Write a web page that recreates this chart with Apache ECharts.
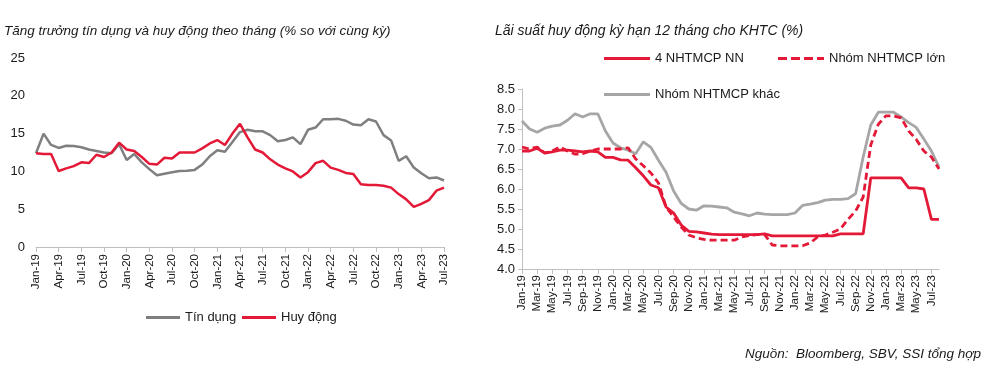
<!DOCTYPE html>
<html>
<head>
<meta charset="utf-8">
<script src="https://cdn.jsdelivr.net/npm/echarts@6/dist/echarts.min.js"></script>
<style>
html,body{margin:0;padding:0;background:#fff;}
#main{width:1000px;height:376px;}
</style>
</head>
<body>
<div id="main"></div>
<script>
// nhan thang: Jan-19 ...
var monthNames = ['Jan','Feb','Mar','Apr','May','Jun','Jul','Aug','Sep','Oct','Nov','Dec'];
function makeMonths(count) {
    var out = [];
    for (var i = 0; i < count; i++) {
        out.push(monthNames[i % 12] + '-' + (19 + Math.floor(i / 12)));
    }
    return out;
}
var leftMonths = makeMonths(55);   // Jan-19 .. Jul-23
var rightMonths = makeMonths(56);  // Jan-19 .. Aug-23

// bieu do trai: % so voi cung ky
var tinDung = [12.4,15.0,13.5,13.1,13.4,13.35,13.2,12.9,12.7,12.5,12.4,13.6,11.5,12.3,11.2,10.3,9.5,9.7,9.9,10.05,
    10.1,10.2,10.9,12.0,12.8,12.6,13.9,15.2,15.5,15.3,15.3,14.8,14.0,14.15,14.5,13.6,15.5,15.8,16.9,16.9,
    16.95,16.7,16.2,16.1,16.9,16.6,14.8,14.1,11.4,12.0,10.5,9.75,9.1,9.2,8.8];
var huyDong = [12.4,12.3,12.3,10.05,10.4,10.7,11.2,11.1,12.2,11.9,12.5,13.8,12.9,12.7,11.9,11.0,10.9,11.8,11.7,12.5,
    12.5,12.5,13.05,13.7,14.15,13.5,15.0,16.3,14.5,12.9,12.5,11.6,10.9,10.4,10.0,9.2,9.9,11.1,11.4,10.5,
    10.2,9.8,9.65,8.3,8.2,8.2,8.1,7.85,7.0,6.3,5.3,5.7,6.2,7.45,7.85];

// bieu do phai: lai suat ky han 12 thang
var nhNN = [6.95,6.95,7.02,6.9,6.93,6.97,6.97,6.95,6.93,6.95,6.93,6.79,6.79,6.73,6.72,6.53,6.33,6.1,6.03,5.55,
    5.4,5.1,4.94,4.93,4.9,4.87,4.86,4.86,4.86,4.86,4.86,4.86,4.88,4.83,4.83,4.83,4.83,4.83,4.83,4.83,
    4.83,4.83,4.88,4.88,4.88,4.88,6.28,6.28,6.28,6.28,6.28,6.03,6.03,6.0,5.24,5.24];
var nhLon = [7.05,7.0,7.05,6.9,6.95,7.05,6.95,6.87,6.88,6.95,7.0,7.0,7.0,7.0,7.03,6.75,6.58,6.4,6.15,5.55,
    5.3,5.05,4.85,4.78,4.74,4.72,4.72,4.72,4.72,4.8,4.84,4.86,4.86,4.6,4.58,4.58,4.58,4.58,4.65,4.8,
    4.85,4.92,5.0,5.24,5.45,5.8,7.1,7.62,7.83,7.83,7.78,7.45,7.24,6.95,6.8,6.5];
var nhKhac = [7.7,7.5,7.42,7.52,7.57,7.6,7.72,7.88,7.8,7.88,7.88,7.45,7.15,7.03,6.97,6.88,7.18,7.04,6.72,6.42,
    5.95,5.64,5.5,5.47,5.58,5.57,5.55,5.53,5.42,5.38,5.33,5.4,5.37,5.36,5.36,5.36,5.4,5.59,5.62,5.66,
    5.72,5.74,5.74,5.76,5.88,6.8,7.6,7.92,7.92,7.92,7.8,7.66,7.54,7.25,6.95,6.55];

var leftTicks = [0, 5, 10, 15, 20, 25];
var rightTicks = [4.0, 8.5];

var fontFam = '"Liberation Sans Narrow", "Liberation Sans", Arial, sans-serif';
var red = '#e31937';
var txt = '#1a1a1a';
var axisGray = '#bfbfbf';
// bieu tuong chu giai: net lien va net dut
var solidIcon = 'rect';
var dashIcon = 'path://M0,0h9v3h-9z M13,0h9v3h-9z M26,0h9v3h-9z M39,0h7v3h-7z';

function legendItem(name, left, top, w, icon, size) {
    return {
        data: [{name: name, icon: icon}], left: left, top: top, itemWidth: w, itemHeight: 3,
        textStyle: {fontSize: size, color: txt}
    };
}

var myChart = echarts.init(document.getElementById('main'));
option = {
    animation: false,
    textStyle: {fontFamily: fontFam},
    title: [
        {text: 'Tăng trưởng tín dụng và huy động theo tháng (% so với cùng kỳ)', left: -1, top: 19,
            textStyle: {fontSize: 13.5, fontStyle: 'italic', fontWeight: 'normal', color: txt, fontFamily: 'Liberation Sans, Arial'}},
        {text: 'Lãi suất huy động kỳ hạn 12 tháng cho KHTC (%)', left: 490, top: 19,
            textStyle: {fontSize: 14, fontStyle: 'italic', fontWeight: 'normal', color: txt, fontFamily: 'Liberation Sans, Arial'}},
        {text: 'Nguồn:  Bloomberg, SBV, SSI tổng hợp', right: 14, top: 342,
            textStyle: {fontSize: 13.5, fontStyle: 'italic', fontWeight: 'normal', color: txt, fontFamily: 'Liberation Sans, Arial'}}
    ],
    legend: [
        legendItem('Tín dụng', 141, 306, 34, solidIcon, 13),
        legendItem('Huy động', 237, 306, 34, solidIcon, 13),
        legendItem('4 NHTMCP NN', 599, 47, 46, solidIcon, 13),
        legendItem('Nhóm NHTMCP lớn', 773, 47, 46, dashIcon, 13),
        legendItem('Nhóm NHTMCP khác', 599, 83, 46, solidIcon, 13)
    ],
    grid: [
        {left: 36, top: 58, width: 408, height: 189},
        {left: 522, top: 89, width: 417, height: 180}
    ],
    xAxis: [
        {
            type: 'category', gridIndex: 0, data: leftMonths, boundaryGap: false,
            axisLine: {lineStyle: {color: axisGray, width: 1}},
            axisTick: {interval: 2, length: 5, lineStyle: {color: axisGray}},
            axisLabel: {interval: 2, rotate: 90, fontSize: 11.5, color: txt, margin: 7}
        },
        {
            type: 'category', gridIndex: 1, data: rightMonths, boundaryGap: false,
            axisLine: {lineStyle: {color: axisGray, width: 1}},
            axisTick: {interval: 1, length: 5, lineStyle: {color: axisGray}},
            axisLabel: {interval: 1, rotate: 90, fontSize: 11.5, color: txt, margin: 6}
        }
    ],
    yAxis: [
        {
            type: 'value', gridIndex: 0, min: leftTicks[0], max: leftTicks[leftTicks.length - 1], interval: 5,
            axisLine: {show: false}, axisTick: {show: false}, splitLine: {show: false},
            axisLabel: {fontSize: 13, color: txt, margin: 11}
        },
        {
            type: 'value', gridIndex: 1, min: rightTicks[0], max: rightTicks[1], interval: 0.5,
            axisLine: {show: true, lineStyle: {color: axisGray}},
            axisTick: {show: true, length: 4, lineStyle: {color: axisGray}},
            splitLine: {show: false},
            axisLabel: {fontSize: 13, color: txt, margin: 7, formatter: function (v) { return v.toFixed(1); }}
        }
    ],
    series: [
        {name: 'Tín dụng', type: 'line', xAxisIndex: 0, yAxisIndex: 0, data: tinDung, symbol: 'none',
            lineStyle: {color: '#7f7f7f', width: 2.5}, itemStyle: {color: '#7f7f7f'}},
        {name: 'Huy động', type: 'line', xAxisIndex: 0, yAxisIndex: 0, data: huyDong, symbol: 'none',
            lineStyle: {color: red, width: 2.5}, itemStyle: {color: red}},
        {name: 'Nhóm NHTMCP khác', type: 'line', xAxisIndex: 1, yAxisIndex: 1, data: nhKhac, symbol: 'none',
            lineStyle: {color: '#a6a6a6', width: 2.8}, itemStyle: {color: '#a6a6a6'}},
        {name: 'Nhóm NHTMCP lớn', type: 'line', xAxisIndex: 1, yAxisIndex: 1, data: nhLon, symbol: 'none',
            lineStyle: {color: red, width: 2.8, type: [7, 4]}, itemStyle: {color: red}},
        {name: '4 NHTMCP NN', type: 'line', xAxisIndex: 1, yAxisIndex: 1, data: nhNN, symbol: 'none',
            lineStyle: {color: red, width: 2.8}, itemStyle: {color: red}}
    ]
};
myChart.setOption(option);
</script>
</body>
</html>
